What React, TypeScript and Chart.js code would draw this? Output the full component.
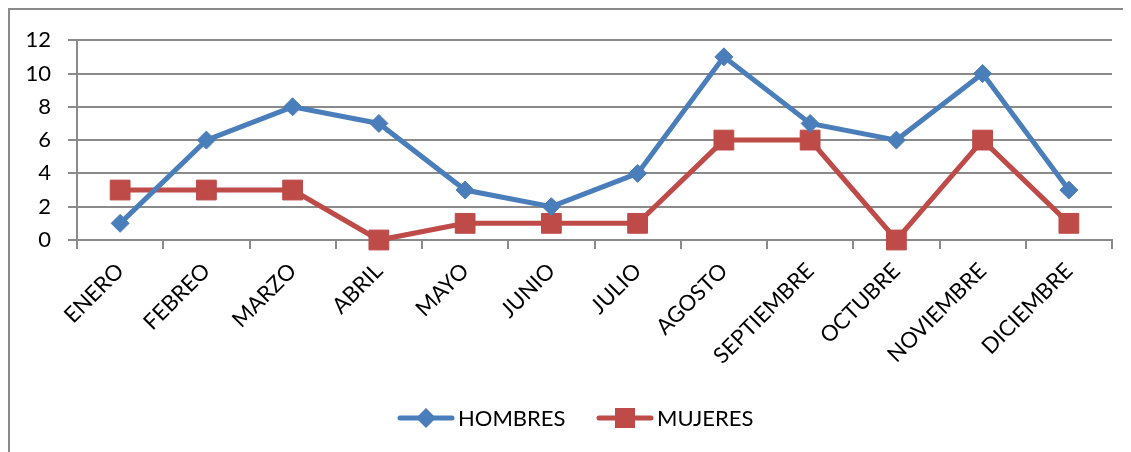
import React, { useEffect, useRef } from "react";
import { Chart, registerables } from "chart.js";

Chart.register(...registerables);

const months = ["ENERO", "FEBREO", "MARZO", "ABRIL", "MAYO", "JUNIO", "JULIO", "AGOSTO", "SEPTIEMBRE", "OCTUBRE", "NOVIEMBRE", "DICIEMBRE"];
const hombres = [1, 6, 8, 7, 3, 2, 4, 11, 7, 6, 10, 3];
const mujeres = [3, 3, 3, 0, 1, 1, 1, 6, 6, 0, 6, 1];
const yTicks = [0, 2, 4, 6, 8, 10, 12];

const BLUE = "#4A7EBB";
const RED = "#BE4B48";
const GRID = "#8a8a8a";
const FONT = "Lato";
const FONT_SIZE = 22;

// Legend drawn below the chart: line + marker, then label (like the spreadsheet legend)
const legendPlugin = {
  id: "lineLegend",
  afterDraw(chart: any) {
    const ctx = chart.ctx as CanvasRenderingContext2D;
    const cy = 408;
    const starts = [chart.width / 2 - 172.5, chart.width / 2 + 26.5];
    ctx.save();
    chart.data.datasets.forEach((ds: any, i: number) => {
      const x0 = starts[i];
      const color = ds.borderColor as string;
      ctx.strokeStyle = color;
      ctx.lineWidth = 5;
      ctx.lineCap = "round";
      ctx.beginPath();
      ctx.moveTo(x0 + 2, cy);
      ctx.lineTo(x0 + 54, cy);
      ctx.stroke();
      ctx.fillStyle = color;
      ctx.beginPath();
      const mx = x0 + 28;
      if (ds.pointStyle === "rectRot") {
        ctx.moveTo(mx, cy - 10);
        ctx.lineTo(mx + 10, cy);
        ctx.lineTo(mx, cy + 10);
        ctx.lineTo(mx - 10, cy);
        ctx.closePath();
      } else {
        ctx.rect(mx - 10, cy - 10, 20, 20);
      }
      ctx.fill();
      ctx.fillStyle = "#000";
      ctx.font = `${FONT_SIZE}px ${FONT}`;
      ctx.textBaseline = "middle";
      ctx.textAlign = "left";
      ctx.fillText(ds.label, x0 + 60, cy + 1);
    });
    ctx.restore();
  },
};

export default function App() {
  const ref = useRef<HTMLCanvasElement>(null);
  useEffect(() => {
    const canvas = ref.current!;
    const chart = new Chart(canvas, {
      type: "line",
      data: {
        labels: months,
        datasets: [
          {
            label: "HOMBRES",
            data: hombres,
            borderColor: BLUE,
            backgroundColor: BLUE,
            borderWidth: 5,
            pointStyle: "rectRot",
            pointRadius: 9,
            pointBorderWidth: 1,
            tension: 0,
            clip: false,
          },
          {
            label: "MUJERES",
            data: mujeres,
            borderColor: RED,
            backgroundColor: RED,
            borderWidth: 5,
            pointStyle: "rect",
            pointRadius: 14,
            pointBorderWidth: 1,
            tension: 0,
            clip: false,
          },
        ],
      },
      plugins: [legendPlugin],
      options: {
        responsive: false,
        animation: false,
        layout: { padding: { left: 0, right: 19, top: 30, bottom: 58 } },
        plugins: {
          tooltip: { enabled: false },
          legend: { display: false },
        },
        scales: {
          x: {
            offset: true,
            grid: {
              offset: true,
              drawOnChartArea: false,
              drawTicks: true,
              tickLength: 9,
              color: GRID,
              lineWidth: 2,
            },
            border: { display: true, color: GRID, width: 2 },
            ticks: {
              color: "#000",
              font: { family: FONT, size: FONT_SIZE },
              maxRotation: 45,
              minRotation: 45,
              autoSkip: false,
              padding: 9,
            },
            afterFit: (s: any) => {
              s.height = 154;
            },
          },
          y: {
            min: 0,
            max: 12,
            afterBuildTicks: (s: any) => {
              s.ticks = yTicks.map((v) => ({ value: v }));
            },
            grid: {
              color: GRID,
              lineWidth: 2,
              tickLength: 9,
            },
            border: { display: true, color: GRID, width: 2 },
            ticks: {
              color: "#000",
              font: { family: FONT, size: FONT_SIZE },
              padding: 17,
            },
            afterFit: (s: any) => {
              s.width = 67;
            },
          },
        },
      },
    });
    return () => chart.destroy();
  }, []);

  return (
    <div
      style={{
        borderLeft: `2px solid ${GRID}`,
        borderTop: `2px solid ${GRID}`,
        width: 1121,
        height: 442,
        overflow: "hidden",
      }}
    >
      <canvas ref={ref} width={1121} height={442} style={{ display: "block" }} />
    </div>
  );
}
